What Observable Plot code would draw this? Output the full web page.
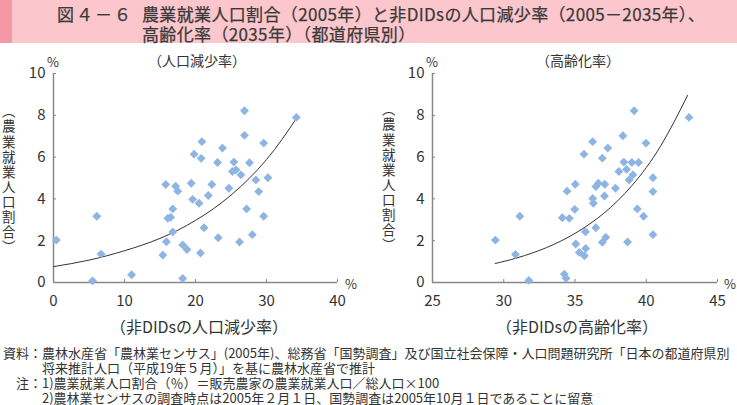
<!DOCTYPE html>
<html><head><meta charset="utf-8">
<script src="https://cdn.jsdelivr.net/npm/d3@7"></script>
<script src="https://cdn.jsdelivr.net/npm/@observablehq/plot@0.6"></script>
<style>
body{margin:0;width:737px;height:405px;position:relative;overflow:hidden;background:#fff;font-family:"Noto Sans CJK JP","Noto Sans",sans-serif;color:#333;}
.a{position:absolute;white-space:nowrap;line-height:1;}
.c{transform:translate(-50%,-50%);}
.m{transform:translate(0,-50%);}
#band{position:absolute;left:0;top:0;width:737px;height:43px;background:#fbc6cc;}
#strip{position:absolute;left:0;top:0;width:12px;height:43px;background:#f598a6;}
.t{font-size:17px;color:#3a3a3a;font-weight:normal;-webkit-text-stroke:0.25px #3a3a3a;letter-spacing:0.35px;}
.vt{writing-mode:vertical-rl;font-size:13.5px;letter-spacing:1.6px;transform:translate(-50%,-50%);}
.n{font-size:13px;color:#333;}
</style></head>
<body>
<div id="band"></div><div id="strip"></div>
<div class="a t m" style="left:57px;top:13px;letter-spacing:2px">図４－６</div>
<div class="a t m" style="left:142px;top:13px">農業就業人口割合（2005年）と非DIDsの人口減少率（2005－2035年）、</div>
<div class="a t m" style="left:142px;top:33px">高齢化率（2035年）（都道府県別）</div>

<div id="left" class="a" style="left:0;top:45px"></div>
<div id="right" class="a" style="left:375px;top:45px"></div>

<div class="a c" style="left:197px;top:60px;font-size:14px">（人口減少率）</div>
<div class="a c" style="left:578px;top:60px;font-size:14px">（高齢化率）</div>
<div class="a c" style="left:53px;top:61px;font-size:13px">%</div>
<div class="a c" style="left:432px;top:61px;font-size:13px">%</div>
<div class="a c" style="left:351px;top:283px;font-size:13px">%</div>
<div class="a c" style="left:730px;top:283px;font-size:13px">%</div>
<div class="a c" style="left:199px;top:326px;font-size:16px">（非DIDsの人口減少率）</div>
<div class="a c" style="left:577px;top:326px;font-size:16px">（非DIDsの高齢化率）</div>
<div class="a vt" style="left:8px;top:180px">（農業就業人口割合）</div>
<div class="a vt" style="left:388px;top:178px">（農業就業人口割合）</div>

<div class="a n m" style="left:3px;top:352px">資料：農林水産省「農林業センサス」(2005年)、総務省「国勢調査」及び国立社会保障・人口問題研究所「日本の都道府県別</div>
<div class="a n m" style="left:42px;top:367px">将来推計人口（平成19年５月）」を基に農林水産省で推計</div>
<div class="a n m" style="left:16px;top:382px">注：1)農業就業人口割合（％）＝販売農家の農業就業人口／総人口×100</div>
<div class="a n m" style="left:42px;top:397px">2)農林業センサスの調査時点は2005年２月１日、国勢調査は2005年10月１日であることに留意</div>

<script>
// 非DIDsの人口減少率 (%) and 農業就業人口割合 (%)
const declineX = [0.4,5.5,6.1,6.7,11.0,15.4,15.8,15.9,16.1,16.5,16.8,16.8,17.2,17.5,18.2,18.2,18.8,19.4,19.6,19.8,20.5,20.7,20.8,20.9,21.2,21.8,22.3,23.1,23.2,23.8,24.7,25.2,25.4,25.7,26.2,26.4,26.9,26.9,27.2,27.6,28.0,28.5,28.9,29.6,29.6,30.2,34.2];
const declineY = [2.03,0.08,3.17,1.36,0.37,1.31,4.69,1.95,3.07,3.12,3.52,2.42,4.61,4.37,1.80,0.19,1.58,4.75,3.98,6.14,3.79,1.41,5.94,6.74,2.62,4.16,4.69,5.74,2.14,6.43,4.51,5.31,5.76,5.39,1.94,5.15,8.22,7.04,3.52,5.73,2.29,4.91,4.35,6.67,3.17,5.01,7.9];
// 非DIDsの高齢化率 (%) and 農業就業人口割合 (%)
const agingX = [29.41,30.82,31.13,31.76,34.11,34.25,34.37,34.44,34.6,34.98,35.02,35.05,35.3,35.63,35.66,35.73,35.75,36.24,36.24,36.29,36.46,36.46,36.64,36.92,36.92,37.07,37.09,37.16,37.3,37.84,38.08,38.36,38.43,38.62,38.69,38.8,38.99,39.06,39.15,39.37,39.46,39.81,39.98,40.47,40.47,40.47,43.0];
const agingY = [2.03,1.34,3.17,0.1,3.1,0.4,0.2,4.37,3.07,3.5,4.7,1.84,1.44,6.14,1.28,2.43,1.63,6.74,4.02,3.79,2.62,4.59,4.75,5.95,1.92,4.14,4.7,2.16,6.43,4.51,5.31,7.02,5.76,5.41,1.94,4.91,5.74,5.15,8.22,3.52,5.74,3.17,6.67,5.01,4.35,2.29,7.9];
// trend curves
const trendDeclineX = [0, 5, 10, 15, 20, 25, 30, 34.2];
const trendDeclineY = [0.76, 1.07, 1.52, 2.11, 2.97, 4.18, 5.88, 7.84];
const trendAgingX = [29.4, 31, 33, 35, 37, 39, 41, 42.9];
const trendAgingY = [0.91, 1.19, 1.67, 2.35, 3.30, 4.64, 6.52, 8.95];
// ticks
const declineTicks = [0, 10, 20, 30, 40];
const agingTicks = [25, 30, 35, 40, 45];
const shareTicks = [0, 2, 4, 6, 8, 10];

const zip = (xs, ys) => xs.map((x, i) => ({x, y: ys[i]}));

function panel(pts, trend, ticks, width, mL, mR) {
  return Plot.plot({
    width, height: 295, marginTop: 28, marginBottom: 58, marginLeft: mL, marginRight: mR,
    style: {fontFamily: '"Noto Sans CJK JP","Noto Sans",sans-serif', fontSize: "15px", color: "#333", background: "transparent", overflow: "visible"},
    x: {domain: [ticks[0], ticks[ticks.length - 1]]},
    y: {domain: [0, 10]},
    marks: [
      Plot.ruleY([0], {stroke: "#888", strokeWidth: 1.5}),
      Plot.ruleX([ticks[0]], {stroke: "#888", strokeWidth: 1.5}),
      Plot.axisX(ticks, {tickSize: -3, tickPadding: 16, stroke: "#888", fill: "#333", label: null}),
      Plot.axisY(shareTicks, {tickSize: -3, tickPadding: 11, stroke: "#888", fill: "#333", label: null}),
      Plot.line(trend, {x: "x", y: "y", curve: "natural", stroke: "#333", strokeWidth: 1}),
      Plot.dot(pts, {x: "x", y: "y", symbol: "diamond2", r: 4, fill: "#8db4e2", stroke: "none"})
    ]
  });
}

document.getElementById("left").append(panel(zip(declineX, declineY), zip(trendDeclineX, trendDeclineY), declineTicks, 370, 53, 33));
document.getElementById("right").append(panel(zip(agingX, agingY), zip(trendAgingX, trendAgingY), agingTicks, 362, 57, 20));
</script>
</body></html>
